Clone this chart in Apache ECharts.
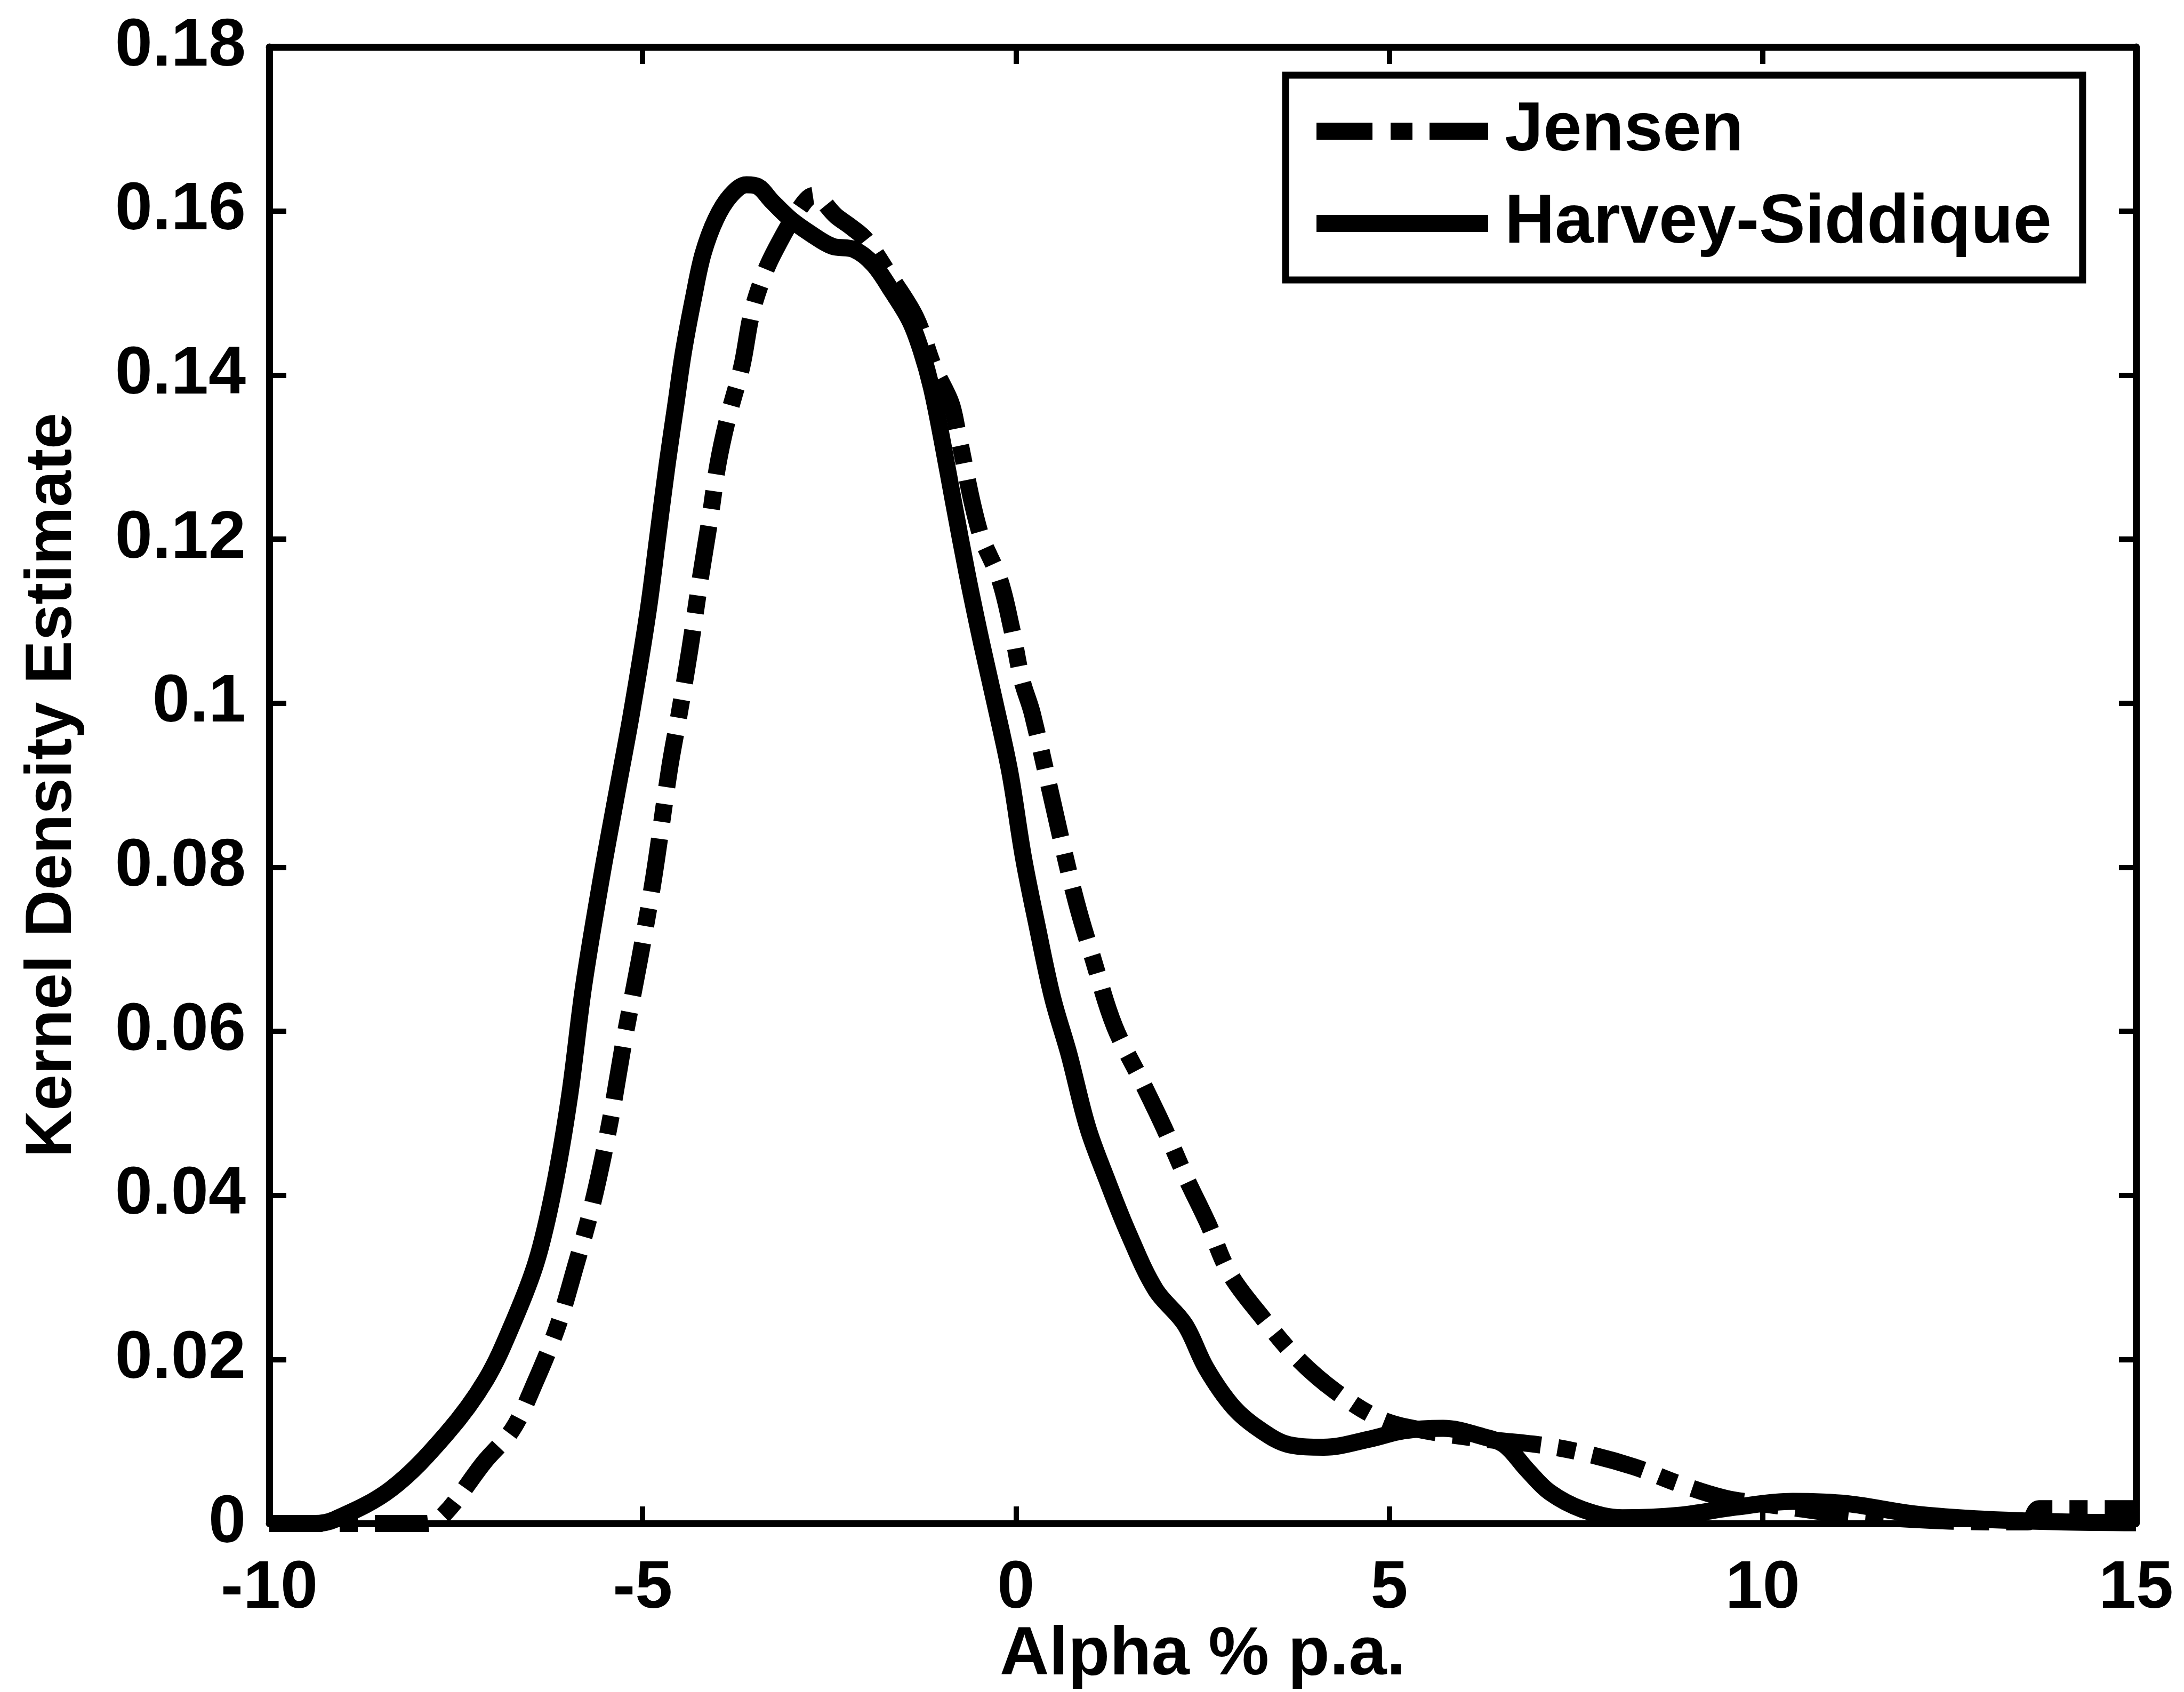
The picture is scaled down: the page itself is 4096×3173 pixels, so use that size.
<!DOCTYPE html>
<html><head><meta charset="utf-8">
<script src="https://cdn.jsdelivr.net/npm/echarts@6/dist/echarts.min.js"></script>
<style>html,body{margin:0;padding:0;background:#fff}#c{width:4096px;height:3173px}</style>
</head><body><div id="c"></div>
<script>
// ---- data ----
const xTickLabels = ['-10', '-5', '0', '5', '10', '15'];
const yTickLabels = ['0', '0.02', '0.04', '0.06', '0.08', '0.1', '0.12', '0.14', '0.16', '0.18'];
const xMin = -10, xMax = 15, xStep = 5;
const yMin = 0, yMax = 0.18, yStep = 0.02;

const legendNames = ['Jensen', 'Harvey-Siddique'];

const jensenX = [-10, -7.9, -7.65, -7.12, -6.74, -6.45, -6.14, -5.91, -5.67, -5.44, -5.25, -5.04, -4.85, -4.64, -4.51, -4.37, -4.22, -4.10, -3.99, -3.86, -3.67, -3.54, -3.38, -3.22, -2.92, -2.71, -2.41, -2.20, -2.01, -1.68, -1.34, -1.10, -0.87, -0.78, -0.49, -0.22, -0.06, 0.08, 0.22, 0.59, 0.81, 1.03, 1.32, 1.69, 1.98, 2.28, 2.57, 2.86, 3.31, 3.76, 4.28, 4.89, 5.49, 6.25, 7.00, 7.60, 8.28, 8.89, 9.49, 10.0, 10.5, 11.0, 11.5, 12.0, 12.5, 13.0, 13.55, 13.7, 14.2, 15];
const jensenY = [0, 0, 0.0012, 0.0075, 0.0115, 0.017, 0.024, 0.031, 0.039, 0.0488, 0.0588, 0.0688, 0.0788, 0.092, 0.0987, 0.1064, 0.1156, 0.1224, 0.1292, 0.1347, 0.1411, 0.1475, 0.1521, 0.1553, 0.160, 0.1619, 0.1594, 0.158, 0.1565, 0.152, 0.147, 0.141, 0.1366, 0.133, 0.121, 0.1151, 0.1092, 0.1028, 0.0987, 0.084, 0.0757, 0.0689, 0.0606, 0.0538, 0.0483, 0.0421, 0.0366, 0.0305, 0.025, 0.0202, 0.0161, 0.0127, 0.0113, 0.0103, 0.0096, 0.0086, 0.0069, 0.0048, 0.0031, 0.0024, 0.0018, 0.0012, 0.0008, 0.0005, 0.0003, 0.0002, 0.0002, 0.0018, 0.0018, 0.0018];

const hsX = [-10, -9.4, -9.12, -8.37, -7.63, -7.10, -6.72, -6.42, -6.19, -5.98, -5.79, -5.55, -5.35, -5.15, -4.93, -4.80, -4.67, -4.56, -4.45, -4.31, -4.19, -4.02, -3.82, -3.61, -3.46, -3.27, -3.02, -2.76, -2.46, -2.17, -1.91, -1.66, -1.42, -1.27, -1.13, -0.98, -0.84, -0.65, -0.46, -0.28, -0.08, 0.10, 0.28, 0.49, 0.71, 0.96, 1.21, 1.51, 1.87, 2.26, 2.55, 2.92, 3.29, 3.66, 4.12, 4.74, 5.19, 5.72, 6.25, 6.54, 6.85, 7.15, 7.59, 8.12, 8.88, 9.64, 10.4, 11.15, 12, 13, 14, 15];
const hsY = [0, 0, 0.0005, 0.0042, 0.0109, 0.0175, 0.0248, 0.032, 0.0408, 0.052, 0.0655, 0.0788, 0.0888, 0.0987, 0.111, 0.1201, 0.1292, 0.1361, 0.143, 0.1498, 0.1548, 0.159, 0.1619, 0.1632, 0.163, 0.1612, 0.159, 0.1573, 0.1557, 0.1553, 0.1535, 0.1502, 0.1466, 0.143, 0.1384, 0.1316, 0.1247, 0.1156, 0.1073, 0.1000, 0.0915, 0.0812, 0.073, 0.0641, 0.0572, 0.0483, 0.0421, 0.0353, 0.0285, 0.0243, 0.0189, 0.0141, 0.0113, 0.0096, 0.0093, 0.0103, 0.0113, 0.0116, 0.0106, 0.0096, 0.0065, 0.0038, 0.0017, 0.0007, 0.001, 0.002, 0.0027, 0.0024, 0.0012, 0.0005, 0.0002, 0.0001];

// ---- chart ----
const FONT = '"Liberation Sans", Arial, sans-serif';
const zip = (xs, ys) => xs.map((x, i) => [x, ys[i]]);
const xFmt = v => { const i = Math.round((v - xMin) / xStep); return xTickLabels[i] ?? ''; };
const yFmt = v => { const i = Math.round((v - yMin) / yStep); return yTickLabels[i] ?? ''; };

const AXIS_W = 13, TICK_W = 10, TICK_L = 32, CURVE_W = 32;
const axisCommon = {
  type: 'value', splitLine: { show: false },
  axisLine: { show: true, onZero: false, lineStyle: { color: '#000', width: AXIS_W } },
  axisTick: { show: true, inside: true, length: TICK_L, lineStyle: { color: '#000', width: TICK_W } }
};
const labelStyle = { color: '#000', fontSize: 126, fontWeight: 'bold', fontFamily: FONT };

const chart = echarts.init(document.getElementById('c'), null, { renderer: 'canvas' });
chart.setOption({
  animation: false,
  backgroundColor: '#fff',
  grid: { left: 505, right: 90, top: 88, bottom: 316, containLabel: false, outerBoundsMode: 'none' },
  xAxis: [
    Object.assign({}, axisCommon, {
      position: 'bottom', min: xMin, max: xMax, interval: xStep,
      axisLabel: Object.assign({ margin: 60, formatter: xFmt, showMinLabel: true, showMaxLabel: true }, labelStyle),
      name: 'Alpha % p.a.', nameLocation: 'middle', nameGap: 184, nameMoveOverlap: false,
      nameTextStyle: { color: '#000', fontSize: 128, fontWeight: 'bold', fontFamily: FONT }
    }),
    Object.assign({}, axisCommon, {
      position: 'top', min: xMin, max: xMax, interval: xStep, axisLabel: { show: false }
    })
  ],
  yAxis: [
    Object.assign({}, axisCommon, {
      position: 'left', min: yMin, max: yMax, interval: yStep,
      axisLabel: Object.assign({ margin: 44, formatter: yFmt, showMinLabel: true, showMaxLabel: true }, labelStyle),
      name: 'Kernel Density Estimate', nameLocation: 'middle', nameGap: 345, nameMoveOverlap: false,
      nameTextStyle: { color: '#000', fontSize: 122, fontWeight: 'bold', fontFamily: FONT }
    }),
    Object.assign({}, axisCommon, {
      position: 'right', min: yMin, max: yMax, interval: yStep, axisLabel: { show: false }
    })
  ],
  legend: {
    data: [
      { name: legendNames[0], icon: 'path://M0,0H105V32H0Z M139,0H180V32H139Z M212,0H322V32H212Z' },
      { name: legendNames[1], icon: 'path://M0,0H322V32H0Z' }
    ],
    orient: 'vertical', left: 2411, top: 141,
    padding: [40, 58, 41, 58], itemGap: 43, itemWidth: 322, itemHeight: 32,
    itemStyle: { color: '#000', borderWidth: 0 },
    borderColor: '#000', borderWidth: 13, backgroundColor: '#fff', selectedMode: false,
    textStyle: { color: '#000', fontSize: 130, fontWeight: 'bold', fontFamily: FONT, padding: [0, 0, 0, 26] }
  },
  series: [
    {
      name: legendNames[0], type: 'line', data: zip(jensenX, jensenY),
      symbol: 'none', showSymbol: false, smooth: 0.35,
      itemStyle: { color: '#000' },
      lineStyle: { color: '#000', width: CURVE_W, type: [100, 32, 34, 32], cap: 'butt', join: 'round' }
    },
    {
      name: legendNames[1], type: 'line', data: zip(hsX, hsY),
      symbol: 'none', showSymbol: false, smooth: 0.35,
      itemStyle: { color: '#000' },
      lineStyle: { color: '#000', width: CURVE_W, type: 'solid', join: 'round' }
    }
  ]
});
</script>
</body></html>
